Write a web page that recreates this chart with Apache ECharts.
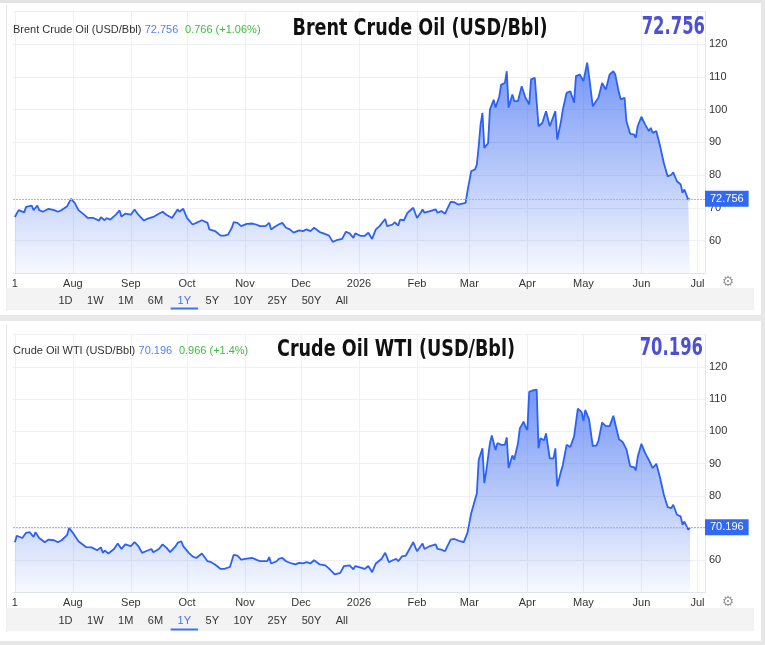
<!DOCTYPE html>
<html>
<head>
<meta charset="utf-8">
<script src="https://cdn.jsdelivr.net/npm/echarts@6/dist/echarts.min.js"></script>
<style>
    html, body {margin:0;padding:0;background:#fff;}
    #chart {width:765px;height:645px;}
</style>
</head>
<body>
<div id="chart"></div>
<script>
// values
var brentDates = ['2025-07-01','2025-07-03','2025-07-06','2025-07-07','2025-07-10','2025-07-11','2025-07-13','2025-07-14','2025-07-16','2025-07-19',
    '2025-07-22','2025-07-24','2025-07-26','2025-07-27','2025-07-29','2025-07-31','2025-08-02','2025-08-04','2025-08-07','2025-08-09',
    '2025-08-12','2025-08-15','2025-08-16','2025-08-18','2025-08-19','2025-08-21','2025-08-24','2025-08-26','2025-08-27','2025-08-29',
    '2025-09-01','2025-09-03','2025-09-05','2025-09-08','2025-09-10','2025-09-13','2025-09-15','2025-09-18','2025-09-20','2025-09-23',
    '2025-09-26','2025-09-27','2025-09-29','2025-10-01','2025-10-04','2025-10-06','2025-10-09','2025-10-10','2025-10-12','2025-10-13',
    '2025-10-16','2025-10-19','2025-10-21','2025-10-23','2025-10-25','2025-10-26','2025-10-28','2025-10-30','2025-11-02','2025-11-05',
    '2025-11-07','2025-11-09','2025-11-12','2025-11-14','2025-11-15','2025-11-17','2025-11-19','2025-11-21','2025-11-23','2025-11-25',
    '2025-11-27','2025-11-30','2025-12-02','2025-12-04','2025-12-06','2025-12-08','2025-12-11','2025-12-13','2025-12-16','2025-12-18',
    '2025-12-20','2025-12-23','2025-12-25','2025-12-27','2025-12-29','2025-12-30','2026-01-02','2026-01-04','2026-01-06','2026-01-08',
    '2026-01-10','2026-01-12','2026-01-15','2026-01-16','2026-01-19','2026-01-20','2026-01-22','2026-01-23','2026-01-25','2026-01-27',
    '2026-01-30','2026-02-01','2026-02-03','2026-02-04','2026-02-05','2026-02-08','2026-02-11','2026-02-12','2026-02-14','2026-02-16',
    '2026-02-19','2026-02-21','2026-02-23','2026-02-24','2026-02-27','2026-02-28','2026-03-02','2026-03-04','2026-03-05','2026-03-06',
    '2026-03-07','2026-03-08','2026-03-09','2026-03-11','2026-03-12','2026-03-14','2026-03-15','2026-03-17','2026-03-18','2026-03-20',
    '2026-03-21','2026-03-22','2026-03-24','2026-03-25','2026-03-27','2026-03-29','2026-03-31','2026-04-02','2026-04-03','2026-04-05',
    '2026-04-06','2026-04-07','2026-04-09','2026-04-10','2026-04-11','2026-04-13','2026-04-14','2026-04-16','2026-04-17','2026-04-19',
    '2026-04-20','2026-04-22','2026-04-24','2026-04-26','2026-04-27','2026-04-29','2026-05-01','2026-05-03','2026-05-04','2026-05-06',
    '2026-05-07','2026-05-09','2026-05-11','2026-05-13','2026-05-15','2026-05-17','2026-05-18','2026-05-20','2026-05-21','2026-05-23',
    '2026-05-24','2026-05-26','2026-05-28','2026-05-29','2026-05-30','2026-06-01','2026-06-03','2026-06-05','2026-06-06','2026-06-07',
    '2026-06-09','2026-06-11','2026-06-13','2026-06-15','2026-06-17','2026-06-18','2026-06-20','2026-06-22','2026-06-23','2026-06-24',
    '2026-06-26','2026-06-27'];
var brentValues = [67.2,69.3,68.6,70.3,70.7,69.3,70.7,69.3,68.8,69.7,
    69.3,68.8,69.3,68.8,70.5,72.7,71.5,69.3,67.9,66.9,
    66.9,66.1,67.1,66.2,66.9,66.4,67.9,69.2,67.3,68.2,
    67.9,69.5,67.9,66.1,66.7,67.2,67.9,68.8,67.9,66.9,
    69.5,68.8,69.7,66.9,64.9,65.4,66.2,66.4,65.4,63.4,
    62.9,61.5,61.5,61.8,63.9,65.6,65.4,64.4,65.1,65.2,
    64.9,64.4,64.4,65.4,63.4,64.2,64.9,65.4,63.9,63.4,
    62.4,63.1,62.9,63.4,62.9,63.9,62.6,62.2,61.5,59.6,
    60.1,60.5,62.7,62.2,60.8,62.2,61.4,61.4,62.4,60.5,
    63.4,64.4,66.6,64.4,64.9,65.6,64.6,66.4,66.2,68.5,
    70.0,66.9,68.5,69.5,68.5,69.0,69.5,68.5,69.0,68.2,
    71.8,71.7,71.0,71.2,71.5,75.1,81.2,81.7,83.2,88.8,
    95.4,99.0,88.3,89.7,100.0,103.0,100.6,104.0,107.6,108.1,
    111.7,100.6,104.6,102.6,102.6,107.1,103.6,101.6,109.2,109.7,
    109.2,94.9,95.9,95.4,99.5,94.9,95.1,99.5,90.8,96.4,
    100.0,105.1,105.6,102.1,110.2,110.7,108.7,114.3,110.2,101.0,
    100.6,103.6,108.1,106.1,110.7,111.7,110.7,105.1,103.1,103.6,
    96.4,92.6,92.4,91.4,94.9,97.8,95.4,93.4,94.4,92.9,
    93.4,88.8,83.7,79.6,80.1,80.8,78.1,77.1,74.6,75.6,
    72.5,72.756];

var wtiDates = ['2025-07-01','2025-07-02','2025-07-05','2025-07-07','2025-07-09','2025-07-11','2025-07-12','2025-07-14','2025-07-17','2025-07-19',
    '2025-07-22','2025-07-24','2025-07-26','2025-07-27','2025-07-29','2025-07-30','2025-08-01','2025-08-04','2025-08-08','2025-08-11',
    '2025-08-14','2025-08-16','2025-08-17','2025-08-18','2025-08-20','2025-08-23','2025-08-25','2025-08-27','2025-08-29','2025-09-01',
    '2025-09-03','2025-09-05','2025-09-07','2025-09-09','2025-09-12','2025-09-13','2025-09-16','2025-09-18','2025-09-20','2025-09-22',
    '2025-09-25','2025-09-26','2025-09-28','2025-09-29','2025-10-02','2025-10-04','2025-10-06','2025-10-09','2025-10-10','2025-10-12',
    '2025-10-14','2025-10-16','2025-10-19','2025-10-21','2025-10-24','2025-10-26','2025-10-28','2025-10-30','2025-11-02','2025-11-05',
    '2025-11-07','2025-11-09','2025-11-13','2025-11-14','2025-11-15','2025-11-18','2025-11-19','2025-11-21','2025-11-23','2025-11-26',
    '2025-11-28','2025-11-30','2025-12-02','2025-12-04','2025-12-06','2025-12-08','2025-12-11','2025-12-14','2025-12-16','2025-12-19',
    '2025-12-22','2025-12-24','2025-12-27','2025-12-29','2025-12-30','2026-01-02','2026-01-04','2026-01-06','2026-01-08','2026-01-10',
    '2026-01-13','2026-01-15','2026-01-17','2026-01-19','2026-01-21','2026-01-22','2026-01-24','2026-01-26','2026-01-28','2026-01-30',
    '2026-02-01','2026-02-04','2026-02-05','2026-02-08','2026-02-11','2026-02-12','2026-02-14','2026-02-16','2026-02-19','2026-02-21',
    '2026-02-24','2026-02-26','2026-02-28','2026-03-02','2026-03-03','2026-03-05','2026-03-06','2026-03-08','2026-03-09','2026-03-10',
    '2026-03-12','2026-03-13','2026-03-15','2026-03-16','2026-03-18','2026-03-20','2026-03-21','2026-03-22','2026-03-24','2026-03-25',
    '2026-03-27','2026-03-28','2026-03-30','2026-03-31','2026-04-01','2026-04-02','2026-04-04','2026-04-06','2026-04-07','2026-04-08',
    '2026-04-10','2026-04-11','2026-04-13','2026-04-15','2026-04-16','2026-04-17','2026-04-19','2026-04-20','2026-04-22','2026-04-24',
    '2026-04-26','2026-04-28','2026-04-30','2026-05-01','2026-05-02','2026-05-04','2026-05-06','2026-05-08','2026-05-09','2026-05-11',
    '2026-05-13','2026-05-15','2026-05-17','2026-05-18','2026-05-20','2026-05-22','2026-05-24','2026-05-26','2026-05-28','2026-05-29',
    '2026-05-30','2026-06-01','2026-06-03','2026-06-05','2026-06-06','2026-06-07','2026-06-09','2026-06-11','2026-06-13','2026-06-15',
    '2026-06-17','2026-06-18','2026-06-20','2026-06-22','2026-06-23','2026-06-24','2026-06-26','2026-06-27'];
var wtiValues = [65.6,67.6,66.9,68.5,68.7,67.2,68.7,66.9,65.6,66.4,
    66.2,65.6,66.2,65.6,67.9,70.0,68.5,65.9,64.1,64.0,
    63.1,64.0,62.3,63.0,62.1,63.5,65.2,63.5,64.9,64.4,
    65.6,64.4,62.3,62.8,63.5,62.5,63.5,64.9,63.9,62.5,
    64.4,65.4,65.9,64.4,62.3,61.2,60.7,62.1,62.6,59.7,
    59.4,58.7,57.3,57.3,57.9,61.7,61.4,60.2,60.5,60.7,
    60.2,59.7,59.7,61.0,59.0,59.7,60.4,60.7,59.7,59.0,
    58.7,59.2,59.0,59.4,59.0,60.0,58.7,58.4,57.4,55.6,
    56.1,58.2,58.4,57.2,58.2,57.7,57.3,58.2,56.3,59.0,
    60.4,62.3,59.4,60.0,60.4,59.7,61.2,61.4,63.5,65.6,
    62.8,65.2,63.5,64.4,64.9,63.5,63.3,62.8,66.4,66.6,
    65.9,65.6,68.5,74.6,74.8,80.8,91.1,94.7,83.9,87.5,
    96.3,98.7,94.2,96.3,95.8,95.8,98.1,88.6,92.5,91.2,
    96.3,100.9,103.0,101.4,100.4,112.2,112.7,112.9,94.7,97.8,
    97.2,99.3,91.6,91.6,94.7,82.9,87.5,89.6,95.8,95.1,
    98.4,107.0,106.0,103.2,106.6,103.7,95.4,95.6,97.0,102.7,
    101.6,101.6,104.8,104.3,97.5,96.7,94.4,89.1,88.9,87.9,
    92.0,96.1,93.2,91.1,91.6,88.6,89.9,85.5,80.3,76.5,
    76.2,77.2,74.1,73.6,71.0,72.0,69.5,70.196];

// header figures
var brentChange = '0.766 (+1.06%)';
var wtiChange = '0.966 (+1.4%)';

// x axis ticks (month starts) and their labels
var monthTicks = ['2025-07-01','2025-08-01','2025-09-01','2025-10-01','2025-11-01','2025-12-01','2026-01-01',
    '2026-02-01','2026-03-01','2026-04-01','2026-05-01','2026-06-01','2026-07-01'];
var monthLabels = ['1','Aug','Sep','Oct','Nov','Dec','2026','Feb','Mar','Apr','May','Jun','Jul'];

var rangeButtons = ['1D','1W','1M','6M','1Y','5Y','10Y','25Y','50Y','All'];
var activeRange = '1Y';

var chart = echarts.init(document.getElementById('chart'));

var baseFont = 'Liberation Sans';
var titleFont = "'DejaVu Sans Condensed', 'DejaVu Sans', sans-serif";
var lineBlue = '#2b61f6';

function toTime(s) {
    var p = s.split('-');
    return new Date(+p[0], +p[1] - 1, +p[2]).getTime();
}
var tickTimes = monthTicks.map(toTime);
var xMin = toTime('2025-06-30');
var xMax = toTime('2026-07-05');

function pairs(dates, values) {
    return dates.map(function (d, i) { return [toTime(d), values[i]]; });
}

// value axis holding timestamps, so the month ticks can be given exactly
function xAxisFor(idx) {
    return {
        type: 'value', gridIndex: idx, min: xMin, max: xMax,
        axisLine: {show: true, lineStyle: {color: '#e2e5ea'}},
        axisTick: {show: false, customValues: tickTimes},
        splitLine: {show: true, lineStyle: {color: '#edf0f4', width: 1}},
        axisLabel: {
            customValues: tickTimes, color: '#333', fontSize: 11, fontFamily: baseFont, margin: 5,
            showMinLabel: true, showMaxLabel: true,
            formatter: function (v) {
                var i = tickTimes.indexOf(v);
                return i >= 0 ? monthLabels[i] : '';
            }
        }
    };
}

function yAxisFor(idx) {
    return {
        type: 'value', gridIndex: idx, position: 'right', min: 50, max: 130, interval: 10,
        axisLine: {show: true, lineStyle: {color: '#e2e5ea'}},
        axisTick: {show: false},
        splitLine: {lineStyle: {color: '#edf0f4'}},
        axisLabel: {color: '#333', fontSize: 11, fontFamily: baseFont, margin: 4, showMinLabel: false, showMaxLabel: false}
    };
}

function seriesFor(idx, dates, values) {
    var last = values[values.length - 1];
    return {
        type: 'line', xAxisIndex: idx, yAxisIndex: idx,
        data: pairs(dates, values),
        showSymbol: false, symbol: 'none', smooth: false,
        lineStyle: {color: lineBlue, width: 1.8},
        itemStyle: {color: lineBlue},
        areaStyle: {
            origin: 'start',
            color: new echarts.graphic.LinearGradient(0, 0, 0, 1, [
                {offset: 0, color: 'rgba(40,92,240,0.92)'},
                {offset: 1, color: 'rgba(40,92,240,0.05)'}
            ])
        },
        markLine: {
            silent: true, symbol: ['none', 'none'],
            lineStyle: {color: '#9fb5f7', type: [2, 1], width: 1},
            label: {
                position: 'end', distance: 0, formatter: last.toFixed(3),
                color: '#fff', backgroundColor: '#3168f6', padding: [3, 5, 2, 5],
                fontSize: 11, fontFamily: baseFont
            },
            data: [{yAxis: last}]
        }
    };
}

// text + decoration drawn with the graphic component
var measure = document.createElement('canvas').getContext('2d');
measure.font = '11px "Liberation Sans"';

function headerTexts(top, name, valueText, change, titleX, valueRight) {
    return [
        {type: 'text', x: 13, y: top + 3, z: 50, silent: true, style: {
            text: '{n|' + name + '} {p|' + valueText + '}  {c|' + change + '}',
            verticalAlign: 'middle', textVerticalAlign: 'middle',
            rich: {
                n: {fill: '#333', fontSize: 11, fontFamily: baseFont},
                p: {fill: '#4f83fa', fontSize: 11, fontFamily: baseFont},
                c: {fill: '#3cbf3c', fontSize: 11, fontFamily: baseFont}
            }
        }},
        {type: 'text', x: titleX, y: top + 2.5, scaleX: 0.85, z: 50, silent: true, style: {
            text: name, fill: '#111', fontSize: 23, fontWeight: 'bold', fontFamily: titleFont,
            align: 'center', textAlign: 'center', verticalAlign: 'middle', textVerticalAlign: 'middle'
        }},
        {type: 'text', x: valueRight, y: top + 1, scaleX: 0.76, z: 50, silent: true, style: {
            text: valueText, fill: '#4b50d5', fontSize: 24, fontWeight: 'bold', fontFamily: titleFont,
            align: 'right', textAlign: 'right', verticalAlign: 'middle', textVerticalAlign: 'middle'
        }}
    ];
}

function buttonBar(barTop, barHeight, gearY) {
    var els = [{type: 'rect', silent: true, shape: {x: 6, y: barTop, width: 748, height: barHeight}, style: {fill: '#f3f3f3'}}];
    var cx = 58.5;
    var ty = barTop + barHeight / 2 + 1.5;
    rangeButtons.forEach(function (lbl) {
        var w = measure.measureText(lbl).width;
        var on = lbl === activeRange;
        els.push({type: 'text', x: cx + w / 2, y: ty, z: 50, silent: true, style: {
            text: lbl, fill: on ? '#3f73f6' : '#333', fontSize: 11, fontFamily: baseFont,
            align: 'center', textAlign: 'center', verticalAlign: 'middle', textVerticalAlign: 'middle'
        }});
        if (on) {
            els.push({type: 'line', silent: true, z: 50, shape: {x1: cx - 7, y1: barTop + barHeight - 1.5, x2: cx + w + 7, y2: barTop + barHeight - 1.5},
                style: {stroke: '#3f73f6', lineWidth: 2}});
        }
        cx += w + 14.5;
    });
    els.push({type: 'text', x: 728, y: gearY, z: 50, silent: true, style: {
        text: '\u2699', fill: '#9a9a9a', fontSize: 14, fontFamily: 'DejaVu Sans',
        align: 'center', textAlign: 'center', verticalAlign: 'middle', textVerticalAlign: 'middle'
    }});
    return els;
}

var frame = [
    {type: 'rect', silent: true, shape: {x: 0, y: 0, width: 765, height: 3}, style: {fill: '#e3e3e3'}},
    {type: 'rect', silent: true, shape: {x: 761, y: 0, width: 4, height: 645}, style: {fill: '#e6e6e6'}},
    {type: 'rect', silent: true, shape: {x: 0, y: 315, width: 765, height: 6}, style: {fill: '#e9e9e9'}},
    {type: 'rect', silent: true, shape: {x: 0, y: 641, width: 765, height: 4}, style: {fill: '#e6e6e6'}},
    {type: 'line', silent: true, shape: {x1: 6.5, y1: 5, x2: 6.5, y2: 311}, style: {stroke: '#e4e4e4', lineWidth: 1}},
    {type: 'line', silent: true, shape: {x1: 6.5, y1: 325, x2: 6.5, y2: 632}, style: {stroke: '#e4e4e4', lineWidth: 1}}
];

var option = {
    backgroundColor: '#ffffff',
    animation: false,
    grid: [
        {left: 13, right: 60, top: 11.3, height: 262},
        {left: 13, right: 60, top: 334.5, height: 258}
    ],
    xAxis: [xAxisFor(0), xAxisFor(1)],
    yAxis: [yAxisFor(0), yAxisFor(1)],
    series: [
        seriesFor(0, brentDates, brentValues),
        seriesFor(1, wtiDates, wtiValues)
    ],
    graphic: {
        elements: frame
            .concat(headerTexts(27, 'Brent Crude Oil (USD/Bbl)', brentValues[brentValues.length - 1].toFixed(3), brentChange, 420, 705))
            .concat(headerTexts(348, 'Crude Oil WTI (USD/Bbl)', wtiValues[wtiValues.length - 1].toFixed(3), wtiChange, 396, 703))
            .concat(buttonBar(288, 22, 282))
            .concat(buttonBar(608, 23, 602))
    }
};

chart.setOption(option);
</script>
</body>
</html>
